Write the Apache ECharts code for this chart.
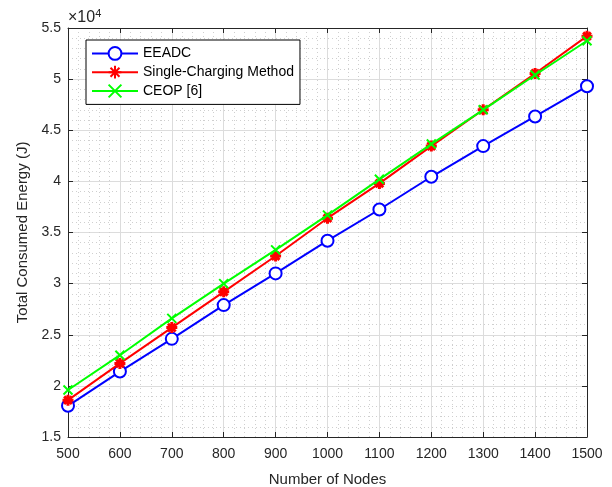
<!DOCTYPE html>
<html>
<head>
<meta charset="utf-8">
<script src="https://cdn.jsdelivr.net/npm/echarts@6/dist/echarts.min.js"></script>
<style>
  html, body { margin: 0; padding: 0; background: #fff; }
  #chart-container { width: 612px; height: 487px; }
</style>
</head>
<body>
<div id="chart-container"></div>
<script>
// data (energy in J)
const nodes = [500, 600, 700, 800, 900, 1000, 1100, 1200, 1300, 1400, 1500];
const eeadc = [18050, 21400, 24600, 27900, 31000, 34200, 37250, 40450, 43450, 46350, 49300];
const singleCharging = [18600, 22200, 25700, 29200, 32700, 36400, 39800, 43450, 47000, 50550, 54200];
const ceop = [19600, 23000, 26600, 30000, 33300, 36700, 40200, 43650, 47000, 50400, 53750];

const seriesNames = ["EEADC", "Single-Charging Method", "CEOP [6]"];

const axisColor = "#262626";
const fontFamily = "Liberation Sans, Arial, sans-serif";

const asterisk = "path://M0,5L10,5M5,0L5,10M1.5,1.5L8.5,8.5M8.5,1.5L1.5,8.5";
const cross = "path://M0,0L10,10M10,0L0,10";

const toPairs = (ys) => nodes.map((x, i) => [x, ys[i]]);

const xCommon = {
  type: "value",
  min: 500,
  max: 1500,
  interval: 100,
  axisLine: { show: true, lineStyle: { color: axisColor, width: 1 } },
  axisTick: { show: true, inside: true, length: 5, lineStyle: { color: axisColor } },
  minorTick: { show: false, splitNumber: 5 },
};
const yCommon = {
  type: "value",
  min: 15000,
  max: 55000,
  interval: 5000,
  axisLine: { show: true, lineStyle: { color: axisColor, width: 1 } },
  axisTick: { show: true, inside: true, length: 5, lineStyle: { color: axisColor } },
  minorTick: { show: false, splitNumber: 5 },
};

let option = {
  animation: false,
  backgroundColor: "#fff",
  textStyle: { fontFamily: fontFamily },
  grid: { left: 68, right: 25, top: 28, bottom: 50, outerBoundsMode: "none", containLabel: false },
  legend: {
    left: 86,
    top: 40,
    orient: "vertical",
    data: seriesNames,
    backgroundColor: "#fff",
    borderColor: "#000",
    borderWidth: 1,
    borderRadius: 0,
    padding: [6, 6, 6, 5],
    itemGap: 4,
    itemWidth: 46,
    itemHeight: 16,
    textStyle: { color: "#000", fontSize: 14, fontFamily: fontFamily },
  },
  graphic: [
    {
      type: "text",
      left: 68,
      top: 8,
      style: {
        text: "×10{sup|4}",
        rich: { sup: { fontSize: 11, verticalAlign: "top", padding: [0, 0, 9, 0] } },
        fontSize: 16,
        fill: axisColor,
        fontFamily: fontFamily,
      },
    },
  ],
  xAxis: [
    Object.assign({}, xCommon, {
      position: "bottom",
      name: "Number of Nodes",
      nameLocation: "middle",
      nameGap: 35,
      nameTextStyle: { color: axisColor, fontSize: 15 },
      axisLabel: { color: axisColor, fontSize: 14, margin: 10, formatter: (v) => String(v) },
      splitLine: { show: true, lineStyle: { color: "#dcdcdc", width: 1 } },
      minorSplitLine: { show: true, lineStyle: { color: "#cfcfcf", width: 1, type: [1, 3] } },
    }),
    Object.assign({}, xCommon, {
      position: "top",
      axisLabel: { show: false },
      splitLine: { show: false },
    }),
  ],
  yAxis: [
    Object.assign({}, yCommon, {
      position: "left",
      name: "Total Consumed Energy (J)",
      nameLocation: "middle",
      nameGap: 36,
      nameTextStyle: { color: axisColor, fontSize: 15 },
      axisLabel: {
        color: axisColor,
        fontSize: 14,
        margin: 7,
        formatter: (v) => String(v / 10000),
      },
      splitLine: { show: true, lineStyle: { color: "#dcdcdc", width: 1 } },
      minorSplitLine: { show: true, lineStyle: { color: "#cfcfcf", width: 1, type: [1, 3] } },
    }),
    Object.assign({}, yCommon, {
      position: "right",
      axisLabel: { show: false },
      splitLine: { show: false },
    }),
  ],
  series: [
    {
      name: seriesNames[0],
      type: "line",
      data: toPairs(eeadc),
      symbol: "circle",
      symbolSize: 12,
      lineStyle: { color: "#0000ff", width: 2 },
      itemStyle: { color: "#fff", borderColor: "#0000ff", borderWidth: 2 },
      z: 3,
    },
    {
      name: seriesNames[1],
      type: "line",
      data: toPairs(singleCharging),
      symbol: asterisk,
      symbolSize: 11,
      lineStyle: { color: "#ff0000", width: 2 },
      itemStyle: { color: "#ff0000", borderColor: "#ff0000", borderWidth: 3 },
      z: 4,
    },
    {
      name: seriesNames[2],
      type: "line",
      data: toPairs(ceop),
      symbol: cross,
      symbolSize: 9,
      lineStyle: { color: "#00ff00", width: 2 },
      itemStyle: { color: "#00ff00", borderColor: "#00ff00", borderWidth: 2 },
      z: 5,
    },
  ],
};

const paintChart = () => {
  let dom = document.getElementById("chart-container");
  let myChart = echarts.init(dom, null, { renderer: "canvas" });
  myChart.setOption(option);
};
paintChart();
</script>
</body>
</html>
